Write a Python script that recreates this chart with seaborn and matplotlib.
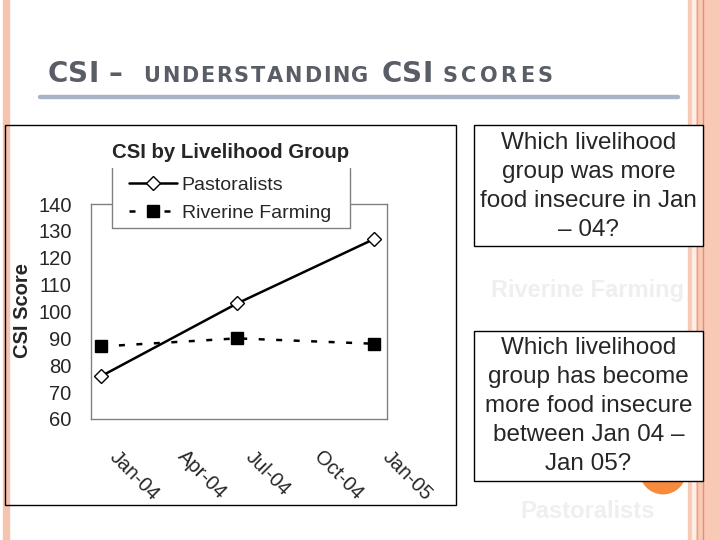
import pandas as pd
import seaborn as sns
import matplotlib.pyplot as plt
import matplotlib.dates as mdates
import matplotlib.transforms as mtransforms
from matplotlib.patches import Rectangle, Circle
from matplotlib.lines import Line2D

# chart data
dates = ["2004-01-15", "2004-07-15", "2005-01-15"]
pastoralists = [76, 103, 127]
riverine = [87, 90, 88]
groups = ["Pastoralists", "Riverine Farming"]

chart_title = "CSI by Livelihood Group"
question_1 = "Which livelihood\ngroup was more\nfood insecure in Jan\n– 04?"
answer_1 = "Riverine Farming"
question_2 = "Which livelihood\ngroup has become\nmore food insecure\nbetween Jan 04 –\nJan 05?"
answer_2 = "Pastoralists"

# long table for seaborn
df = pd.DataFrame({
    "date": pd.to_datetime(dates * 2),
    "score": pastoralists + riverine,
    "group": [groups[0]] * 3 + [groups[1]] * 3,
})

sns.set_style("white")
plt.rcParams["font.family"] = ["Liberation Sans", "DejaVu Sans"]

W, H = 720, 540
fig = plt.figure(figsize=(7.2, 5.4), dpi=100)
renderer = fig.canvas.get_renderer()


def fx(x):
    return x / W


def fy(y):
    return 1 - y / H


# slide decorations
fig.patches.append(Rectangle((fx(3), 0), fx(6), 1, transform=fig.transFigure, color="#f6c3ae", zorder=0))
fig.patches.append(Rectangle((fx(688), 0), fx(32), 1, transform=fig.transFigure, color="#f8c9b5", zorder=0))
fig.patches.append(Rectangle((fx(692), 0), fx(3), 1, transform=fig.transFigure, color="#fdeee6", zorder=0))
fig.lines.append(Line2D([fx(696.5)] * 2, [0, 1], transform=fig.transFigure, color="#eea284", lw=1))
fig.lines.append(Line2D([fx(702.5)] * 2, [0, 1], transform=fig.transFigure, color="#e98e68", lw=1))


# slide title, letter by letter to get the wide tracking
def tracked(x, y, word, size, track):
    for ch in word:
        t = fig.text(fx(x), fy(y), ch, fontsize=size, fontweight="bold", color="#585d66",
                     va="baseline", family="DejaVu Sans")
        x += t.get_window_extent(renderer=renderer).width + track


tracked(48, 82, "CSI", 20, 0)
tracked(108, 82, "–", 20, 0)
tracked(143, 82, "UNDERSTANDING", 15, 1.8)
tracked(382, 82, "CSI", 20, 0)
tracked(443, 82, "SCORES", 15, 3.2)
fig.lines.append(Line2D([fx(40), fx(678)], [fy(97)] * 2, transform=fig.transFigure, color="#a9b4c9", lw=3.2))

# chart frame
fig.patches.append(Rectangle((fx(5), fy(505)), fx(451), (505 - 125) / H, transform=fig.transFigure,
                             fill=False, edgecolor="black", lw=1, zorder=1))

# plot area
ax = fig.add_axes([fx(91), fy(419), fx(387 - 91), (419 - 204) / H])
sns.lineplot(data=df, x="date", y="score", hue="group", style="group",
             palette={groups[0]: "black", groups[1]: "black"},
             markers={groups[0]: "D", groups[1]: "s"},
             dashes={groups[0]: "", groups[1]: (2.4, 4.6)},
             lw=1.8, markeredgecolor="black", markeredgewidth=1,
             legend=False, ax=ax)
ax.lines[0].set_markerfacecolor("white")
ax.lines[0].set_markersize(7)
ax.lines[1].set_markersize(8.5)
for ln in ax.lines:
    ln.set_clip_on(False)

ax.set_ylim(60, 140)
ax.set_yticks(range(60, 141, 10))
ax.set_xlim(pd.Timestamp("2004-01-01"), pd.Timestamp("2005-02-01"))
ax.xaxis.set_major_locator(mdates.MonthLocator(bymonth=[1, 4, 7, 10]))
ax.xaxis.set_major_formatter(mdates.DateFormatter("%b-%y"))
ax.set_xlabel("")
ax.set_ylabel("")
for s in ax.spines.values():
    s.set_color("#808080")
    s.set_linewidth(1)
ax.tick_params(axis="y", direction="out", length=4, width=1, color="#808080", labelsize=14.5, pad=10)
ax.tick_params(axis="x", direction="out", length=6, width=1, color="#808080", labelsize=14.5, pad=19)
off = mtransforms.ScaledTranslation(0.22, 0, fig.dpi_scale_trans)
for lbl in ax.get_xticklabels():
    lbl.set_rotation(-45)
    lbl.set_ha("left")
    lbl.set_va("center")
    lbl.set_rotation_mode("anchor")
    lbl.set_transform(lbl.get_transform() + off)

fig.text(fx(23), fy(310), "CSI Score", rotation=90, fontsize=14.5, fontweight="bold", ha="center", va="center")
fig.text(fx(231), fy(152.5), chart_title, fontsize=14.7, fontweight="bold", ha="center", va="center")

# legend box: white fill hides the top spine, no visible top edge
fig.patches.append(Rectangle((fx(112), fy(228)), fx(238), (228 - 168) / H, transform=fig.transFigure,
                             facecolor="white", edgecolor="none", zorder=1.5))
fig.lines.append(Line2D([fx(112), fx(112), fx(350), fx(350)], [fy(168), fy(228), fy(228), fy(168)],
                        transform=fig.transFigure, color="#808080", lw=1, zorder=1.6))
fig.legend(handles=ax.lines[:2], labels=groups, loc="upper left",
           bbox_to_anchor=(fx(129), fy(176)), frameon=False, fontsize=14,
           handlelength=2.45, handletextpad=0.25, labelspacing=0.55, borderpad=0, borderaxespad=0)

# question boxes
fig.patches.append(Circle((663, H - 471), 22.7, transform=None, color="#f68b3d", zorder=1))
fig.patches.append(Rectangle((fx(474), fy(246)), fx(229), (246 - 125) / H, transform=fig.transFigure,
                             facecolor="white", edgecolor="black", lw=1, zorder=2))
fig.patches.append(Rectangle((fx(474), fy(481)), fx(229), (481 - 331) / H, transform=fig.transFigure,
                             facecolor="white", edgecolor="black", lw=1, zorder=2))
fig.text(fx(588.5), fy(186.5), question_1, fontsize=17.5, ha="center", va="center", linespacing=1.42)
fig.text(fx(588.5), fy(406), question_2, fontsize=17.5, ha="center", va="center", linespacing=1.42)
fig.text(fx(588), fy(290), answer_1, fontsize=17, fontweight="bold", color="#efefef", ha="center", va="center")
fig.text(fx(588), fy(512), answer_2, fontsize=17, fontweight="bold", color="#efefef", ha="center", va="center")

fig.savefig("out.png", dpi=100)
